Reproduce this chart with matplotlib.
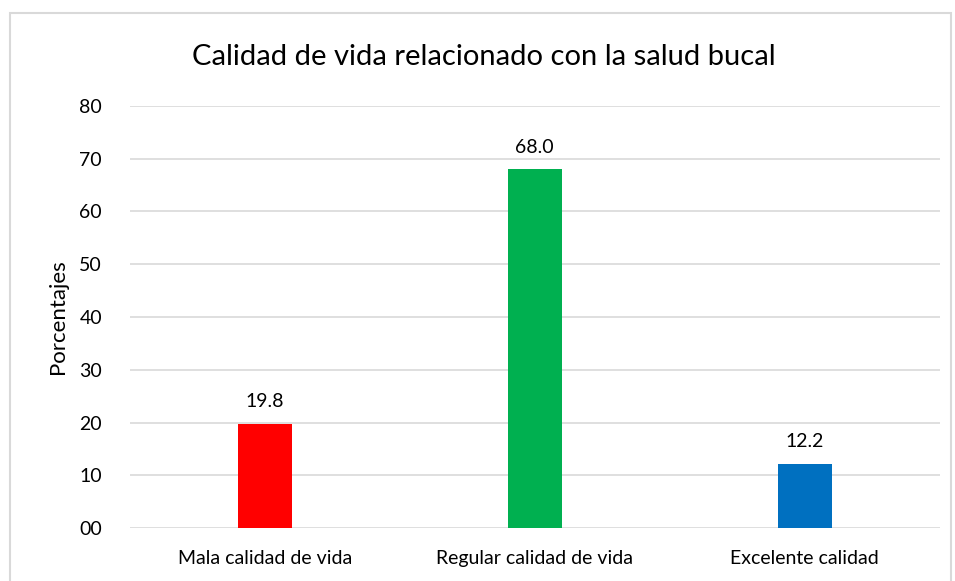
import matplotlib.pyplot as plt
from matplotlib.patches import Rectangle

categorias = ["Mala calidad de vida", "Regular calidad de vida", "Excelente calidad"]
valores = [19.8, 68.0, 12.2]
colores = ["#FF0000", "#00B050", "#0070C0"]
ticks_y = [0, 10, 20, 30, 40, 50, 60, 70, 80]
etiquetas_y = ["00", "10", "20", "30", "40", "50", "60", "70", "80"]

plt.rcParams['font.family'] = ['Lato', 'DejaVu Sans']

fig = plt.figure(figsize=(9.55, 5.81), dpi=100)
ax = fig.add_axes([0.136, 0.0912, 0.848, 0.7264])

# Marco del gráfico
fig.patches.append(Rectangle((10 / 955, -0.05), 941 / 955, 1 - 13 / 581 + 0.05,
                             transform=fig.transFigure, fill=False,
                             edgecolor='#D9D9D9', linewidth=1.5))

x = range(len(categorias))
barras = ax.bar(x, valores, width=0.2, color=colores, zorder=3)

for xi, v in zip(x, valores):
    ax.text(xi, v + 2.6, f"{v:.1f}", ha='center', va='bottom', fontsize=14, color='#000000')

ax.set_xlim(-0.5, 2.5)
ax.set_ylim(0, 80)
ax.set_yticks(ticks_y)
ax.set_yticklabels(etiquetas_y)
ax.set_xticks(list(x))
ax.set_xticklabels(categorias)
ax.tick_params(axis='both', length=0, labelsize=14, colors='#000000')
ax.tick_params(axis='y', pad=20)
ax.tick_params(axis='x', pad=16)

ax.grid(axis='y', color='#D9D9D9', linewidth=1.2, zorder=0)
for s in ax.spines.values():
    s.set_visible(False)

ax.set_ylabel("Porcentajes", fontsize=16, labelpad=8)
fig.text(0.507, 1 - 57 / 581, "Calidad de vida relacionado con la salud bucal",
         ha='center', va='center', fontsize=21)

fig.savefig("out.png", dpi=100)
